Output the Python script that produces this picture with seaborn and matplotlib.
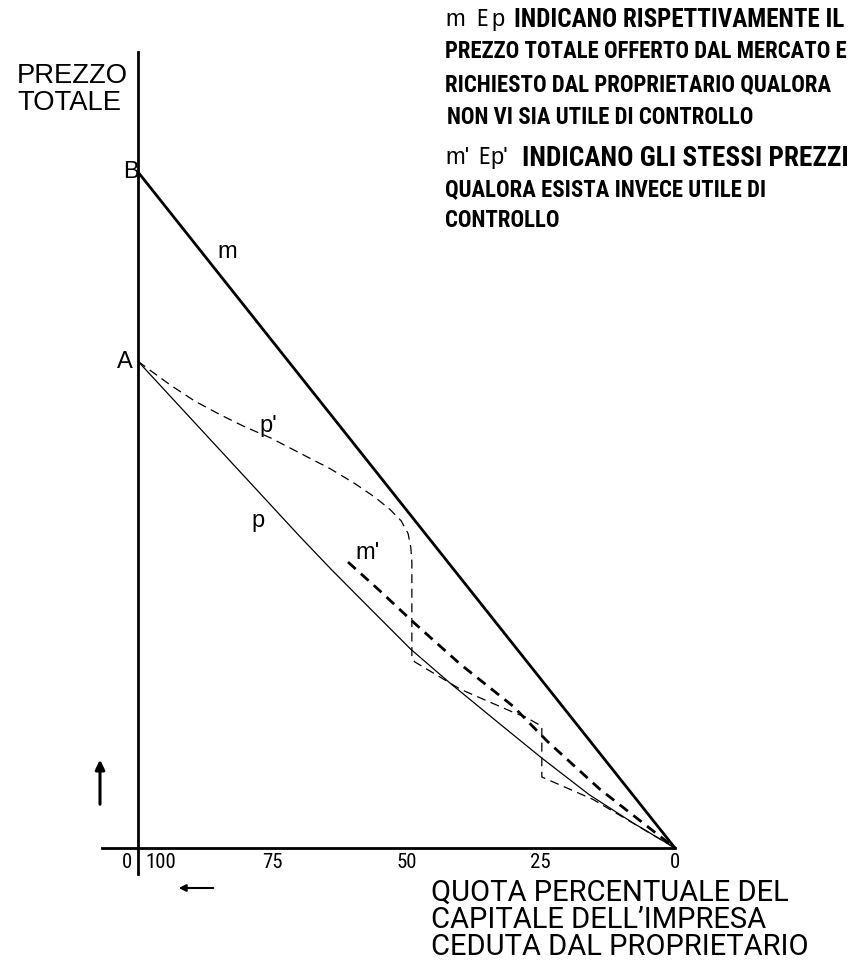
import matplotlib
matplotlib.use("Agg")
import matplotlib.pyplot as plt
import seaborn as sns

# ---------------- data (x: % of capital ceded, y: total price, B = 100) ----------------
m_x = [100, 0]
m_y = [100, 0]

p_x = [100, 90, 80, 70, 64, 57, 49.2, 41.9, 33, 24.8, 16, 8, 0]
p_y = [72.0, 63.4, 54.8, 46.2, 41.2, 35.6, 29.4, 24.4, 18.6, 13.3, 7.9, 3.8, 0]

pp_x = [100, 97.8, 94.0, 89.4, 84.7, 80.1, 75.4, 69.8, 64.2, 59.6, 55.9, 53.1, 51.0, 49.7, 49.2, 49.0,
        49.0, 48.4, 40.0, 30.2, 27.9, 24.8, 24.8, 15.3, 0]
pp_y = [72.0, 70.7, 68.5, 66.1, 64.1, 62.3, 60.7, 58.4, 56.1, 53.9, 51.9, 50.1, 48.4, 46.5, 44.5, 42.3,
        28.0, 27.5, 23.5, 20.1, 19.4, 18.0, 10.5, 7.2, 0]

mp_x = [60.9, 54.9, 49.0, 40.0, 30.2, 23.8, 14.0, 0]
mp_y = [42.3, 38.0, 33.6, 27.2, 21.0, 15.8, 8.7, 0]

x_ticks = [75, 50, 25]
x_tick_labels = ["75", "50", "25", "0"]
x_label_pos = [75, 50, 25, 0]

header_lines = [
    "PREZZO TOTALE OFFERTO DAL MERCATO E",
    "RICHIESTO DAL PROPRIETARIO QUALORA",
    "NON VI SIA UTILE DI CONTROLLO",
]
header2_lines = [
    "QUALORA ESISTA INVECE UTILE DI",
    "CONTROLLO",
]
xlabel_lines = [
    "QUOTA PERCENTUALE DEL",
    "CAPITALE DELL\u2019IMPRESA",
    "CEDUTA DAL PROPRIETARIO",
]

# ---------------- layout helpers ----------------
W, H = 865, 970
X0, XS = 675.0, 5.37   # pixel of x=0, pixels per unit
Y0, YS = 849.0, 6.76   # pixel of y=0, pixels per unit

sns.set_style("white")
plt.rcParams["lines.scale_dashes"] = False
NARROW = ["Roboto Condensed", "DejaVu Sans"]
ROBOTO = ["Roboto", "DejaVu Sans"]
SANS = ["Liberation Sans", "DejaVu Sans"]

fig = plt.figure(figsize=(W / 100, H / 100), dpi=100)
ax = fig.add_axes([0, 0, 1, 1])
ax.set_xlim(X0 / XS, (X0 - W) / XS)
ax.set_ylim((Y0 - H) / YS, Y0 / YS)
ax.set_facecolor("white")

# curves
sns.lineplot(x=m_x, y=m_y, ax=ax, color="black", lw=2.0, sort=False, estimator=None)
sns.lineplot(x=p_x, y=p_y, ax=ax, color="black", lw=0.9, sort=False, estimator=None)
sns.lineplot(x=pp_x, y=pp_y, ax=ax, color="black", lw=0.9, sort=False, estimator=None,
             linestyle=(0, (6.5, 4.0)))
sns.lineplot(x=mp_x, y=mp_y, ax=ax, color="black", lw=2.0, sort=False, estimator=None,
             linestyle=(0, (7.5, 5.0)))

# axes spines
for s in ["top", "right"]:
    ax.spines[s].set_visible(False)
ax.spines["left"].set_position(("data", 100))
ax.spines["left"].set_bounds((Y0 - 875) / YS, (Y0 - 53) / YS)
ax.spines["bottom"].set_position(("data", 0))
ax.spines["bottom"].set_bounds(0, (X0 - 102) / XS)
for s in ["left", "bottom"]:
    ax.spines[s].set_linewidth(2.0)
    ax.spines[s].set_color("black")
    ax.spines[s].set_zorder(5)

ax.set_xticks(x_ticks)
ax.set_yticks([])
ax.tick_params(axis="x", direction="in", length=13, width=1.2, color="black",
               labelbottom=False)

R = fig.canvas.get_renderer()


def ftext(px, py, s, fam, size, ha="left", va="center", width=None, weight="normal",
          stretch="normal"):
    t = fig.text(px / W, 1 - py / H, s, family=fam, fontsize=size, ha=ha, va=va,
                 weight=weight, stretch=stretch, color="black")
    if width is not None:
        bb = t.get_window_extent(renderer=R)
        t.set_fontsize(size * width / bb.width)
    return t


def fitsize(s, width, fam, weight="normal", stretch="normal"):
    t = fig.text(0, 0, s, family=fam, fontsize=20, weight=weight, stretch=stretch)
    w = t.get_window_extent(renderer=R).width
    t.remove()
    return 20 * width / w


# tick labels
for v, lab in zip(x_label_pos, x_tick_labels):
    ftext(X0 - v * XS, 863, lab, NARROW, 15, ha="center", stretch="condensed")
ftext(127, 863, "0", NARROW, 15, ha="center", stretch="condensed")
ftext(161, 863, "100", NARROW, 15, ha="center", stretch="condensed")

# axis titles
ftext(17, 76, "PREZZO", SANS, 18, width=111)
ftext(17, 103, "TOTALE", SANS, 18, width=104)
xs = min(fitsize(xlabel_lines[2], 428, ROBOTO), 21)
ftext(431, 893, xlabel_lines[0], ROBOTO, xs)
ftext(431, 920, xlabel_lines[1], ROBOTO, xs)
ftext(431, 947, xlabel_lines[2], ROBOTO, xs)

# point / curve labels
ftext(123, 172, "B", SANS, 17)
ftext(125, 362, "A", SANS, 17, ha="center")
ftext(227, 252, "m", SANS, 17, ha="center")
ftext(268, 426, "p'", SANS, 17, ha="center")
ftext(258, 521, "p", SANS, 17, ha="center")
ftext(368, 553, "m'", SANS, 17, ha="center")

# header note
hs = fitsize(header_lines[0], 403, NARROW, weight="bold", stretch="condensed")
hy = [20, 52, 85, 118]
ftext(445, hy[0], "m", SANS, 17)
ftext(476, hy[0], "E", NARROW, hs, stretch="condensed")
ftext(491, hy[0], "p", SANS, 17)
ftext(514, hy[0], "INDICANO RISPETTIVAMENTE IL", NARROW, hs, width=331, weight="bold",
      stretch="condensed")
ftext(445, hy[1], header_lines[0], NARROW, hs, weight="bold", stretch="condensed")
ftext(445, hy[2], header_lines[1], NARROW, hs, weight="bold", stretch="condensed")
ftext(447, hy[3], header_lines[2], NARROW, hs, weight="bold", stretch="condensed")

hy2 = [158, 190, 221]
ftext(445, hy2[0], "m'", SANS, 17)
ftext(478, hy2[0], "E", NARROW, hs, stretch="condensed")
ftext(490, hy2[0], "p'", SANS, 17)
ftext(522, hy2[0], "INDICANO GLI STESSI PREZZI", NARROW, hs, width=326, weight="bold",
      stretch="condensed")
ftext(445, hy2[1], header2_lines[0], NARROW, hs, weight="bold", stretch="condensed")
ftext(445, hy2[2], header2_lines[1], NARROW, hs, weight="bold", stretch="condensed")

# direction arrows
ax.annotate("", xy=((X0 - 100) / XS, (Y0 - 758) / YS), xytext=((X0 - 100) / XS, (Y0 - 808) / YS),
            arrowprops=dict(arrowstyle="-|>", color="black", lw=2.2, mutation_scale=14))
ax.annotate("", xy=((X0 - 176) / XS, (Y0 - 889) / YS), xytext=((X0 - 216) / XS, (Y0 - 889) / YS),
            arrowprops=dict(arrowstyle="-|>", color="black", lw=1.5, mutation_scale=10))

fig.savefig("out.png", dpi=100, facecolor="white")
